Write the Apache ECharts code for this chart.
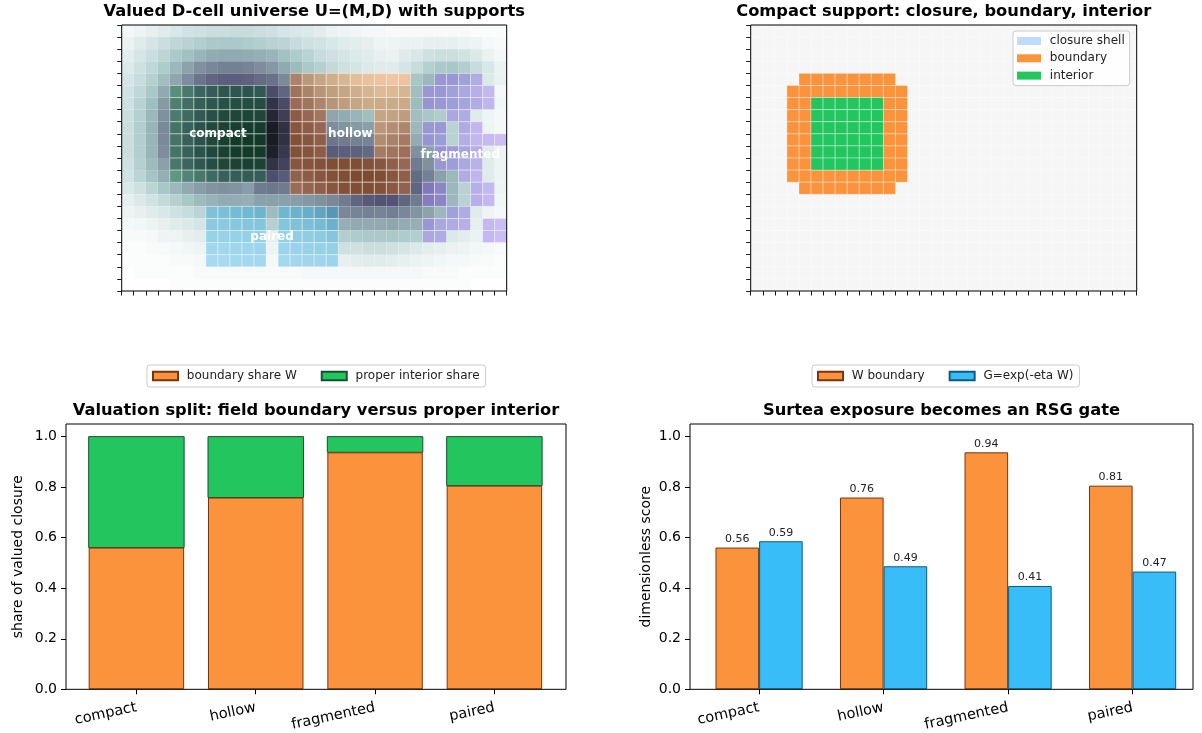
<!DOCTYPE html>
<html>
<head>
<meta charset="utf-8">
<script src="https://cdn.jsdelivr.net/npm/echarts@6/dist/echarts.min.js"></script>
<style>
  html, body { margin: 0; padding: 0; background: #ffffff; }
  #main { width: 1202px; height: 733px; }
</style>
</head>
<body>
<div id="main"></div>
<script>
// ---- data ---------------------------------------------------------------
const categories = ['compact', 'hollow', 'fragmented', 'paired'];
const boundaryShare = [0.561, 0.759, 0.938, 0.806];   // W
const interiorShare = [0.439, 0.241, 0.062, 0.194];   // proper interior share
const gateValue = [0.586, 0.487, 0.409, 0.466];       // G = exp(-eta W)
const shareTicks = [0, 0.2, 0.4, 0.6, 0.8, 1.0];

// valued field M on the 22 x 32 cell universe (percent)
const fieldRows = [
  [3,5,7,9,11,13,14,15,15,16,16, 15,14,12,11,10,8,6,5,4,3,3, 2,2,2,2,2,2,2,1,1,1],
  [6,9,12,15,18,20,22,24,24,24,23, 22,20,19,16,14,13,11,9,8,7,5, 5,6,6,7,7,7,6,5,3,2],
  [8,12,15,19,24,27,31,34,35,35,34, 33,31,27,23,20,16,14,12,10,9,7, 6,9,11,14,15,15,13,10,6,3],
  [10,14,18,23,30,37,43,46,48,48,47, 44,41,35,29,24,21,17,14,12,10,9, 9,12,16,21,24,25,22,16,11,6],
  [12,16,21,28,36,44,52,57,59,59,58, 55,53,45, 47,36,28,22,17,12,9,7,6,7, 25,30, 30,30,25,18, 10,6],
  [13,18,25,35, 35,47,58,63,68,68,69,66, 66,57, 56,47,38,32,28,22,18,14,15,18, 28, 30,30,25,20,14,8, 3],
  [14,20,28,40, 43,53,62,68,72,73,74,74, 77,67, 60,55,46,38,33,28,24,24,24,25, 29, 32,30,27,23,17,10, 4],
  [15,21,30,43, 45,55,65,72,78,80,81,80, 83,72, 70,62,54, 36,34,31,28, 28,30,33, 28,25,23, 20,18, 9,5,3],
  [15,22,31,45, 50,60,70,78,83,86,87,87, 88,78, 75,70,63, 44,42,40,38, 36,41,45, 30, 30,30, 20, 18,9, 5,3],
  [15,22,31,45, 50,60,70,79,85,88,89,89, 88,78, 78,74,68, 52,50,48,47, 42,48,52, 34, 32,28, 20, 16,9,7,4],
  [15,22,31,44, 50,60,70,78,84,87,88,88, 86,75, 78,76,70, 60,59,58,56, 52,55,58, 43,38, 33,28,22,15, 9,5],
  [14,21,29,38, 48,58,67,74,80,83,84,83, 77,70, 74,76,78,80,80,80,78,74,68,62, 50,43, 30,27,20,13, 9,5],
  [13,19,26,33, 30,40,48,55,60,62,63,62, 65,60, 66,70,74,78,80,82,82,80,74,68, 55,48,38,30, 18,10, 9,5],
  [11,14,19,25,30,35,39,42,43,42,39, 50,51,50, 60,64,68,74,78,80,80,78,72,65, 57, 48,40, 30,20, 14,8, 5],
  [7,10,13,17,21,25,29,32,34,34,33, 38,38,38,39,41,43,46,50,57,61,63, 63,57,50, 45,40, 30,20, 14,8, 4],
  [5,7,9,11,14,16,19, 20,22,25,27,29, 29, 28,30,33,38,46, 46,47,48,47, 49,46,42, 37,30, 25,18, 9,5,3],
  [3,4,5,7,9,10,12, 15,15,16,17,18, 21, 18,20,22,25,30, 33,35,35,35, 36,34,33, 30,20,18,14, 7, 8,4],
  [2,2,3,5,5,7,8, 8,8,9,10,10, 7, 10,11,12,14,17, 22,23,24,24, 24,23,22, 20,18, 10,8,6, 8,4],
  [1,1,2,2,3,4,5, 4,4,5,5,6, 5, 6,7,8,9,10, 14,14,15,15, 14,12,10,8,7,6,5,4,3,2],
  [1,1,1,1,2,2,3, 2,2,3,3,3, 3, 3,4,5,5,6, 7,8,9,9, 8,7,6,5,4,3,3,2,2,1],
  [0,1,1,1,1,1,2,2,2,2,2,2,2,2,2,3,3,3,3,3,3,3,3,3,3,2,2,2,1,1,1,1],
  [0,0,0,0,1,1,1,1,1,1,1,1,1,1,1,1,1,1,1,1,1,1,1,1,1,1,1,1,1,0,0,0]
];

// supports D: c = compact, h = hollow, f = fragmented, p = paired
const supportRows = [
  '................................',
  '................................',
  '................................',
  '................................',
  '..............hhhhhhhhhh..ffff..',
  '....cccccccc..hhhhhhhhhh.ffffff.',
  '....cccccccc..hhhhhhhhhh.ffffff.',
  '....cccccccc..hhh....hhh...ff...',
  '....cccccccc..hhh....hhh.ff.ff..',
  '....cccccccc..hhh....hhh.ff.ffff',
  '....cccccccc..hhh....hhh..ffff..',
  '....cccccccc..hhhhhhhhhh..ffff..',
  '....cccccccc..hhhhhhhhhh....ff..',
  '..............hhhhhhhhhh.ff..ff.',
  '.........................ff..ff.',
  '.......ppppp.ppppp.........ff...',
  '.......ppppp.ppppp.......ffff.ff',
  '.......ppppp.ppppp.......ff...ff',
  '.......ppppp.ppppp..............',
  '.......ppppp.ppppp..............',
  '................................',
  '................................'
];
const supportKeys = ['c', 'h', 'f', 'p'];
const supportNames = { c: 'compact', h: 'hollow', f: 'fragmented', p: 'paired' };

// ---- styling ------------------------------------------------------------
const FONT = '"DejaVu Sans", "Liberation Sans", sans-serif';
const supportTint = {
  c: 'rgba(13,105,50,0.42)',
  h: 'rgba(250,130,40,0.40)',
  f: 'rgba(150,105,245,0.40)',
  p: 'rgba(40,170,225,0.40)'
};
const ORANGE = '#fb923c', GREEN = '#22c55e', SKY = '#38bdf8', SHELL = '#bfdbfe';
const ORANGE_EDGE = '#7a3510', GREEN_EDGE = '#14532d', SKY_EDGE = '#0c5a80';

const box = {
  tl: { left: 121.7, top: 25, width: 385, height: 266 },
  tr: { left: 750.7, top: 25, width: 386, height: 266 },
  bl: { left: 66, top: 424, width: 500, height: 266 },
  br: { left: 690, top: 424, width: 503, height: 266 }
};
const blRange = [-0.59, 3.60];
const brRange = [-0.555, 3.485];

// bone_r colour ramp for the valued field
function boneR(v) {
  const t = 1 - v;
  const seg = (pts) => {
    for (let i = 1; i < pts.length; i++) {
      if (t <= pts[i][0]) {
        const [x0, y0] = pts[i - 1], [x1, y1] = pts[i];
        return y0 + (y1 - y0) * (t - x0) / (x1 - x0);
      }
    }
    return pts[pts.length - 1][1];
  };
  const r = seg([[0, 0], [0.746032, 0.652778], [1, 1]]);
  const g = seg([[0, 0], [0.365079, 0.319444], [0.746032, 0.777778], [1, 1]]);
  const b = seg([[0, 0], [0.365079, 0.444444], [1, 1]]);
  return 'rgb(' + Math.round(r * 255) + ',' + Math.round(g * 255) + ',' + Math.round(b * 255) + ')';
}
const boneStops = [];
for (let i = 0; i <= 40; i++) boneStops.push(boneR(i / 40));

// ---- derived cell lists -------------------------------------------------
const ROWS = fieldRows.length, COLS = fieldRows[0].length;
const fieldData = [];
const allCells = [];
fieldRows.forEach((row, r) => row.forEach((v, c) => { fieldData.push([c, r, v]); allCells.push([c, r]); }));

function cellsOf(key) {
  const out = [];
  supportRows.forEach((s, r) => { for (let c = 0; c < COLS; c++) if (s[c] === key) out.push([c, r]); });
  return out;
}
function centroid(cells) {
  let sc = 0, sr = 0;
  cells.forEach(([c, r]) => { sc += c; sr += r; });
  return [sc / cells.length + 0.5, sr / cells.length + 0.5];
}
const labelItems = supportKeys.map(k => ({ name: supportNames[k], pos: centroid(cellsOf(k)) }));

// compact support: closure (4-neighbour), interior and boundary
const inCompact = (c, r) => r >= 0 && r < ROWS && c >= 0 && c < COLS && supportRows[r][c] === 'c';
const nbrs = [[1, 0], [-1, 0], [0, 1], [0, -1]];
const compactCells = cellsOf('c');
const interiorCells = compactCells.filter(([c, r]) => nbrs.every(([dc, dr]) => inCompact(c + dc, r + dr)));
const closureKeys = new Set();
compactCells.forEach(([c, r]) => {
  closureKeys.add(c + ',' + r);
  nbrs.forEach(([dc, dr]) => {
    const cc = c + dc, rr = r + dr;
    if (rr >= 0 && rr < ROWS && cc >= 0 && cc < COLS) closureKeys.add(cc + ',' + rr);
  });
});
const closureCells = [...closureKeys].map(s => s.split(',').map(Number));
const shellCells = closureCells.filter(([c, r]) => !inCompact(c, r));
const interiorKeys = new Set(interiorCells.map(([c, r]) => c + ',' + r));
const boundaryCells = closureCells.filter(([c, r]) => !interiorKeys.has(c + ',' + r));

// ---- drawing helpers ----------------------------------------------------
function cellRect(stroke, lw) {
  return function (params, api) {
    const a = api.coord([api.value(0), api.value(1)]);
    const b = api.coord([api.value(0) + 1, api.value(1) + 1]);
    return {
      type: 'rect',
      shape: { x: Math.min(a[0], b[0]), y: Math.min(a[1], b[1]), width: Math.abs(b[0] - a[0]), height: Math.abs(b[1] - a[1]) },
      style: { fill: api.visual('color'), stroke: stroke, lineWidth: lw }
    };
  };
}
function cellSeries(name, axis, data, color, stroke, lw, z) {
  return {
    type: 'custom', name: name, xAxisIndex: axis, yAxisIndex: axis,
    data: data, encode: { x: 0, y: 1 }, itemStyle: { color: color },
    renderItem: cellRect(stroke, lw), z: z, silent: true
  };
}
function gridAxis(max, axisIdx, isY) {
  return {
    gridIndex: axisIdx, type: 'value', min: 0, max: max, interval: 1, inverse: !!isY,
    axisLine: { show: false, onZero: false }, splitLine: { show: false }, axisLabel: { show: false },
    axisTick: { show: true, length: 4.5, lineStyle: { color: '#000', width: 0.9 } }
  };
}
const tickText = { color: '#000', fontSize: 14, fontFamily: FONT };

function categoryAxis(gridIndex, range) {
  return {
    gridIndex: gridIndex, type: 'value', min: range[0], max: range[1],
    axisLine: { show: false, onZero: false }, splitLine: { show: false },
    axisTick: { show: true, customValues: [0, 1, 2, 3], length: 5, lineStyle: { color: '#000' } },
    axisLabel: Object.assign({}, tickText, { customValues: [0, 1, 2, 3], rotate: 12, margin: 18, fontSize: 14.5, formatter: v => categories[Math.round(v)] })
  };
}
function scoreAxis(gridIndex, name, gap) {
  return {
    gridIndex: gridIndex, type: 'value', min: 0, max: 1.05,
    name: name, nameLocation: 'middle', nameGap: gap,
    nameTextStyle: { fontSize: 14, color: '#000', fontFamily: FONT },
    axisLine: { show: false, onZero: false }, splitLine: { show: false },
    axisTick: { show: true, customValues: shareTicks, length: 5, lineStyle: { color: '#000' } },
    axisLabel: Object.assign({ customValues: shareTicks, margin: 9, formatter: v => v.toFixed(1) }, tickText)
  };
}
const legendText = { fontSize: 12, color: '#222', fontFamily: FONT, lineHeight: 14 };
const spaced = name => ' ' + name;

// ---- chart --------------------------------------------------------------
const chart = echarts.init(document.getElementById('main'), null, { renderer: 'canvas' });

const blBarWidth = 0.8 * box.bl.width / (blRange[1] - blRange[0]);
const brBarWidth = 0.35 * box.br.width / (brRange[1] - brRange[0]);

const frame = { show: true, z: 10, borderColor: '#000', borderWidth: 1, backgroundColor: 'transparent' };

const option = {
  animation: false,
  backgroundColor: '#ffffff',
  textStyle: { fontFamily: FONT },
  grid: [
    Object.assign({}, box.tl, frame),
    Object.assign({}, box.tr, frame),
    Object.assign({}, box.bl, frame),
    Object.assign({}, box.br, frame)
  ],
  xAxis: [
    gridAxis(COLS, 0, false),
    gridAxis(COLS, 1, false),
    categoryAxis(2, blRange),
    categoryAxis(3, brRange)
  ],
  yAxis: [
    gridAxis(ROWS, 0, true),
    gridAxis(ROWS, 1, true),
    scoreAxis(2, 'share of valued closure', 41),
    scoreAxis(3, 'dimensionless score', 37)
  ],
  visualMap: {
    type: 'continuous', show: false, seriesIndex: 0, dimension: 2,
    min: 0, max: 100, inRange: { color: boneStops }
  },
  legend: [
    {
      data: ['closure shell', 'boundary', 'interior'], orient: 'vertical',
      left: 1013, top: 31, icon: 'rect', itemWidth: 24, itemHeight: 8, itemGap: 3.3,
      padding: [3, 5, 3, 4], backgroundColor: 'rgba(255,255,255,0.85)',
      borderColor: '#cccccc', borderWidth: 1, borderRadius: 3, selectedMode: false,
      formatter: spaced, textStyle: legendText
    },
    {
      data: ['boundary share W', 'proper interior share'],
      left: 147, top: 365, icon: 'rect', itemWidth: 25, itemHeight: 8.5, itemGap: 24,
      padding: [4, 6, 4, 5], borderColor: '#cccccc', borderWidth: 1, borderRadius: 3, selectedMode: false,
      formatter: spaced, textStyle: legendText
    },
    {
      data: ['W boundary', 'G=exp(-eta W)'],
      left: 812, top: 365, icon: 'rect', itemWidth: 25, itemHeight: 8.5, itemGap: 24,
      padding: [4, 6, 4, 5], borderColor: '#cccccc', borderWidth: 1, borderRadius: 3, selectedMode: false,
      formatter: spaced, textStyle: legendText
    }
  ],
  graphic: [
    ['Valued D-cell universe U=(M,D) with supports', box.tl],
    ['Compact support: closure, boundary, interior', box.tr],
    ['Valuation split: field boundary versus proper interior', box.bl],
    ['Surtea exposure becomes an RSG gate', box.br]
  ].map(([text, b]) => ({
    type: 'text', x: b.left + b.width / 2, y: b.top - 13, silent: true,
    style: { text: text, fill: '#000', font: 'bold 16.3px ' + FONT, align: 'center', verticalAlign: 'middle' }
  })),
  series: [
    // valued field
    {
      type: 'custom', name: 'field', xAxisIndex: 0, yAxisIndex: 0,
      dimensions: ['col', 'row', 'value'], data: fieldData, encode: { x: 0, y: 1 },
      renderItem: cellRect('none', 0), z: 1, silent: true
    },
    // supports over the field
    ...supportKeys.map(k => cellSeries(supportNames[k], 0, cellsOf(k), supportTint[k], 'rgba(255,255,255,0.45)', 0.8, 2)),
    // support names at their centroids
    {
      type: 'custom', name: 'support labels', xAxisIndex: 0, yAxisIndex: 0, z: 5, silent: true,
      data: labelItems.map(it => it.pos), encode: { x: 0, y: 1 },
      renderItem: function (params, api) {
        const p = api.coord([api.value(0), api.value(1)]);
        return {
          type: 'text', x: p[0], y: p[1],
          style: { text: labelItems[params.dataIndex].name, fill: '#ffffff', font: 'bold 12px ' + FONT, align: 'center', verticalAlign: 'middle' }
        };
      }
    },
    // compact support decomposition
    cellSeries('universe', 1, allCells, '#f6f6f6', 'rgba(255,255,255,0.55)', 0.5, 1),
    cellSeries('closure shell', 1, shellCells, SHELL, 'rgba(255,255,255,0.5)', 0.8, 2),
    cellSeries('boundary', 1, boundaryCells, ORANGE, 'rgba(255,255,255,0.45)', 0.8, 3),
    cellSeries('interior', 1, interiorCells, GREEN, 'rgba(255,255,255,0.45)', 0.8, 3),
    // valuation split: boundary share from zero, interior share stacked on top of it
    {
      type: 'bar', name: 'boundary share W', xAxisIndex: 2, yAxisIndex: 2,
      barWidth: blBarWidth, data: boundaryShare.map((v, i) => [i, v]),
      itemStyle: { color: ORANGE, borderColor: ORANGE_EDGE, borderWidth: 1 }
    },
    {
      type: 'custom', name: 'proper interior share', xAxisIndex: 2, yAxisIndex: 2,
      data: interiorShare.map((v, i) => [i, boundaryShare[i], v]), encode: { x: 0, y: 1 },
      itemStyle: { color: GREEN, borderColor: GREEN_EDGE, borderWidth: 1 },
      renderItem: function (params, api) {
        const x = api.value(0), base = api.value(1), h = api.value(2);
        const lo = api.coord([x, base]), hi = api.coord([x, base + h]);
        const w = api.size([0.8, 0])[0];
        return {
          type: 'rect',
          shape: { x: lo[0] - w / 2, y: hi[1], width: w, height: lo[1] - hi[1] },
          style: { fill: GREEN, stroke: GREEN_EDGE, lineWidth: 1 }
        };
      }
    },
    // exposure vs gate
    {
      type: 'bar', name: 'W boundary', xAxisIndex: 3, yAxisIndex: 3,
      barWidth: brBarWidth, barGap: '0%', data: boundaryShare.map((v, i) => [i, v]),
      itemStyle: { color: ORANGE, borderColor: ORANGE_EDGE, borderWidth: 1 },
      label: { show: true, position: 'top', distance: 3, fontSize: 11, color: '#222', fontFamily: FONT, formatter: p => p.value[1].toFixed(2) }
    },
    {
      type: 'bar', name: 'G=exp(-eta W)', xAxisIndex: 3, yAxisIndex: 3,
      barWidth: brBarWidth, barGap: '0%', data: gateValue.map((v, i) => [i, v]),
      itemStyle: { color: SKY, borderColor: SKY_EDGE, borderWidth: 1 },
      label: { show: true, position: 'top', distance: 3, fontSize: 11, color: '#222', fontFamily: FONT, formatter: p => p.value[1].toFixed(2) }
    }
  ]
};

chart.setOption(option);
</script>
</body>
</html>
